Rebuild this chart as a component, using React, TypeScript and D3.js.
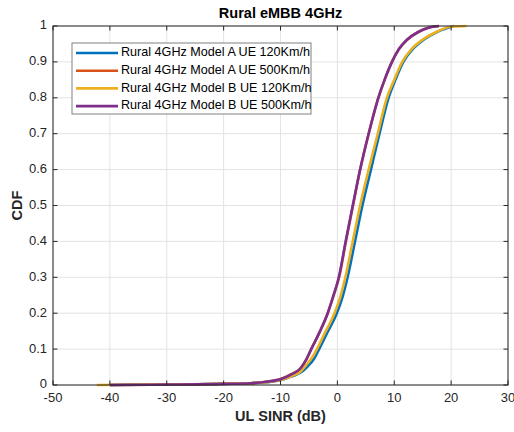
import React from "react";
import * as d3 from "d3";

const seriesNames = [
  "Rural 4GHz Model A UE 120Km/h",
  "Rural 4GHz Model A UE 500Km/h",
  "Rural 4GHz Model B UE 120Km/h",
  "Rural 4GHz Model B UE 500Km/h",
];
const seriesColors = ["#0072BD", "#D95319", "#EDB120", "#7E2F8E"];

const modelA120: [number, number][] = [
  [-40, 0], [-35, 0.001], [-25, 0.002], [-18, 0.004], [-15.3, 0.005], [-12.5, 0.008],
  [-10, 0.013], [-8, 0.024], [-6.3, 0.036], [-5.2, 0.052], [-4.1, 0.073], [-3.2, 0.1],
  [-1.8, 0.145], [-0.1, 0.2], [0.9, 0.245], [1.8, 0.3], [3.1, 0.4], [4.4, 0.5],
  [5.9, 0.6], [7.4, 0.7], [9.0, 0.8], [10.2, 0.85], [11.6, 0.9], [13.2, 0.935],
  [15.1, 0.961], [17.6, 0.984], [20.5, 1.0],
];
const modelA500: [number, number][] = [
  [-40, 0], [-30, 0.001], [-20, 0.003], [-15.3, 0.005], [-12.5, 0.009], [-10, 0.017],
  [-8, 0.031], [-6.5, 0.046], [-5.5, 0.07], [-4.6, 0.1], [-3.1, 0.148], [-1.7, 0.2],
  [-0.7, 0.248], [0.3, 0.3], [1.5, 0.4], [2.75, 0.5], [4.0, 0.6], [5.5, 0.7],
  [7.2, 0.8], [8.3, 0.85], [9.6, 0.9], [10.8, 0.935], [12.2, 0.961], [14.3, 0.984],
  [16.0, 0.995], [17.9, 1.0],
];
const modelB120: [number, number][] = [
  [-42.3, 0], [-35, 0.001], [-25, 0.002], [-18, 0.004], [-15.3, 0.005], [-12.5, 0.008],
  [-10, 0.014], [-8, 0.025], [-6.5, 0.037], [-5.5, 0.055], [-4.5, 0.075], [-3.6, 0.1],
  [-2.2, 0.145], [-0.5, 0.2], [0.5, 0.245], [1.4, 0.3], [2.7, 0.4], [4.0, 0.5],
  [5.5, 0.6], [7.1, 0.7], [8.7, 0.8], [10, 0.85], [11.4, 0.9], [13, 0.935],
  [14.9, 0.961], [17.5, 0.984], [19.9, 0.998], [22.7, 1.0],
];
const modelB500: [number, number][] = [
  [-40, 0], [-30, 0.001], [-20, 0.003], [-15.3, 0.005], [-12.5, 0.009], [-10, 0.016],
  [-8, 0.03], [-6.5, 0.046], [-5.5, 0.07], [-4.6, 0.1], [-3.1, 0.148], [-1.7, 0.2],
  [-0.7, 0.248], [0.25, 0.3], [1.45, 0.4], [2.7, 0.5], [4.0, 0.6], [5.5, 0.7],
  [7.2, 0.8], [8.3, 0.85], [9.6, 0.9], [10.8, 0.935], [12.2, 0.961], [14.3, 0.984],
  [16.0, 0.995], [17.8, 1.0],
];
const seriesData = [modelA120, modelA500, modelB120, modelB500];

const xTicks = [-50, -40, -30, -20, -10, 0, 10, 20, 30];
const yTicks = [0, 0.1, 0.2, 0.3, 0.4, 0.5, 0.6, 0.7, 0.8, 0.9, 1];

const titleText = "Rural eMBB 4GHz";
const xLabel = "UL SINR (dB)";
const yLabel = "CDF";

export default function App() {
  const W = 514, H = 432;
  const left = 53, right = 508, top = 26, bottom = 385;
  const x = d3.scaleLinear().domain([-50, 30]).range([left, right]);
  const y = d3.scaleLinear().domain([0, 1]).range([bottom, top]);
  const line = d3.line<[number, number]>().x((d) => x(d[0])).y((d) => y(d[1])).curve(d3.curveMonotoneX);
  const font = "'Liberation Sans', Arial, sans-serif";
  const axisColor = "#262626";
  const tickLen = 4.5;

  return (
    <svg width={W} height={H} style={{ position: "absolute", left: 0, top: 0, background: "#fff" }} fontFamily={font}>
      <rect x={0} y={0} width={W} height={H} fill="#fff" />
      {xTicks.map((t) => (
        <line key={"gx" + t} x1={x(t)} x2={x(t)} y1={top} y2={bottom} stroke="#e3e3e3" strokeWidth={1} />
      ))}
      {yTicks.map((t) => (
        <line key={"gy" + t} x1={left} x2={right} y1={y(t)} y2={y(t)} stroke="#e3e3e3" strokeWidth={1} />
      ))}
      {seriesData.map((d, i) => (
        <path key={"s" + i} d={line(d) || ""} fill="none" stroke={seriesColors[i]} strokeWidth={2.6} strokeLinejoin="round" />
      ))}
      <rect x={left} y={top} width={right - left} height={bottom - top} fill="none" stroke={axisColor} strokeWidth={1} />
      {xTicks.map((t) => (
        <g key={"tx" + t}>
          <line x1={x(t)} x2={x(t)} y1={bottom} y2={bottom - tickLen} stroke={axisColor} />
          <line x1={x(t)} x2={x(t)} y1={top} y2={top + tickLen} stroke={axisColor} />
          <text x={x(t)} y={399} textAnchor="middle" dominantBaseline="middle" fontSize={13} fill={axisColor}>
            {t}
          </text>
        </g>
      ))}
      {yTicks.map((t) => (
        <g key={"ty" + t}>
          <line x1={left} x2={left + tickLen} y1={y(t)} y2={y(t)} stroke={axisColor} />
          <line x1={right} x2={right - tickLen} y1={y(t)} y2={y(t)} stroke={axisColor} />
          <text x={47} y={y(t)} textAnchor="end" dominantBaseline="middle" fontSize={13} fill={axisColor}>
            {String(t)}
          </text>
        </g>
      ))}
      <text x={(left + right) / 2} y={14} textAnchor="middle" dominantBaseline="middle" fontSize={14.5} fontWeight="bold" fill="#000">
        {titleText}
      </text>
      <text x={(left + right) / 2} y={417} textAnchor="middle" dominantBaseline="middle" fontSize={14.5} fontWeight="bold" fill={axisColor}>
        {xLabel}
      </text>
      <text transform={`translate(18,${(top + bottom) / 2}) rotate(-90)`} textAnchor="middle" dominantBaseline="middle" fontSize={14.5} fontWeight="bold" fill={axisColor}>
        {yLabel}
      </text>
      <rect x={72} y={43} width={239} height={71} fill="#fff" stroke="#808080" strokeWidth={1} />
      {seriesNames.map((n, i) => (
        <g key={"lg" + i}>
          <line x1={76} x2={118} y1={53 + i * 17.7} y2={53 + i * 17.7} stroke={seriesColors[i]} strokeWidth={2.6} />
          <text x={121} y={53 + i * 17.7} dominantBaseline="middle" fontSize={12.6} fill="#000">
            {n}
          </text>
        </g>
      ))}
    </svg>
  );
}
